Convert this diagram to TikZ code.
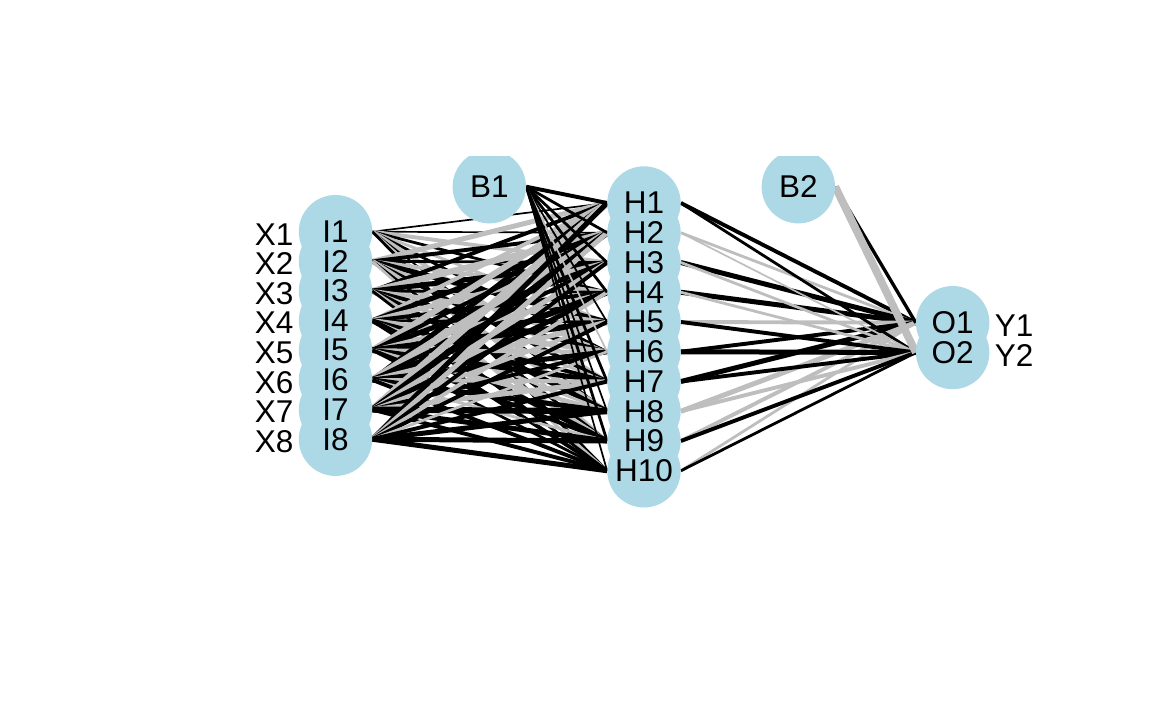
\documentclass[tikz,border=0pt]{standalone}
\usepackage{fontspec}
\setmainfont{Liberation Sans}
\pgfdeclarelayer{edges}
\pgfsetlayers{edges,main}
\definecolor{nodeblue}{HTML}{ADD8E6}
\definecolor{neggray}{HTML}{BEBEBE}
\begin{document}
\begin{tikzpicture}[x=1pt,y=-1pt,
  neuron/.style={circle,fill=nodeblue,draw=none,minimum size=73.4pt,inner sep=0pt},
  lbl/.style={font=\fontsize{31.5}{31.5}\selectfont,inner sep=0pt},
  edge b/.style={draw=black},
  edge g/.style={draw=neggray},
  wt/.style={line width={0.6pt+1.1pt*#1}},
  ]
\useasboundingbox (0,0) rectangle (1152,711);
\begin{scope}
\clip (0,157) rectangle (1152,711);
% neurons
\foreach \k in {1,...,8}
  \node[neuron] (I\k) at (335.5,{231.7+29.65*(\k-1)}) {};
\foreach \k in {1,...,10}
  \node[neuron] (H\k) at (644,{203+29.75*(\k-1)}) {};
\node[neuron] (O1) at (952.7,322.7) {};
\node[neuron] (O2) at (952.7,352.5) {};
\node[neuron] (B1) at (489.3,186.7) {};
\node[neuron] (B2) at (798.3,186.7) {};
% weighted connections (black = positive, grey = negative)
\begin{pgfonlayer}{edges}
\foreach \row [count=\i] in {
  {b/1,b/1,g/3,b/2,g/2,b/2,g/3,b/1,g/2,b/2},
  {g/4,b/3,b/2,g/3,b/4,g/2,b/3,g/4,b/2,g/2},
  {b/3,g/5,b/4,b/2,g/3,b/3,g/2,b/4,g/3,b/2},
  {g/3,b/4,g/4,b/3,b/2,g/4,b/3,g/2,b/4,b/3},
  {g/5,b/3,b/4,g/3,b/5,g/3,b/4,g/3,b/3,b/2},
  {b/4,g/6,b/3,b/5,g/4,b/4,g/3,b/4,g/2,b/3},
  {g/6,b/5,g/4,b/4,g/3,b/3,g/4,b/5,b/4,b/3},
  {b/4,g/4,b/3,g/3,b/3,g/2,b/3,b/4,b/4,b/4}} {
  \foreach \c/\w [count=\h] in \row
    \draw[edge \c,wt=\w] (I\i.east) -- (H\h.west);
}
\foreach \c/\w [count=\h] in {b/3,b/2,b/2,b/2,b/1,g/1,b/2,b/1,b/2,b/1}
  \draw[edge \c,wt=\w] (B1.east) -- (H\h.west);
\foreach \c/\w [count=\h] in {b/3,g/2,b/4,b/4,g/3,b/3,b/4,g/4,g/3,g/2}
  \draw[edge \c,wt=\w] (H\h.east) -- (O1.west);
\foreach \c/\w [count=\h] in {b/2,g/1,g/2,g/2,b/3,b/4,b/3,g/3,b/3,b/2}
  \draw[edge \c,wt=\w] (H\h.east) -- (O2.west);
\draw[edge b,wt=2.5] (B2.east) -- (O1.west);
\draw[edge g,wt=6.5] (B2.east) -- (O2.west);
\end{pgfonlayer}
% node texts
\foreach \k in {1,...,8} {
  \node[lbl] at (I\k) {I\k};
  \node[lbl,anchor=east] at ([xshift=-42pt,yshift=-2.5pt]I\k.center) {X\k};
}
\foreach \k in {1,...,10}
  \node[lbl] at (H\k) {H\k};
\node[lbl] at (O1) {O1};
\node[lbl] at (O2) {O2};
\node[lbl,anchor=west] at ([xshift=42pt,yshift=-3pt]O1.center) {Y1};
\node[lbl,anchor=west] at ([xshift=42pt,yshift=-3pt]O2.center) {Y2};
\node[lbl] at (B1) {B1};
\node[lbl] at (B2) {B2};
\end{scope}
\end{tikzpicture}
\end{document}
